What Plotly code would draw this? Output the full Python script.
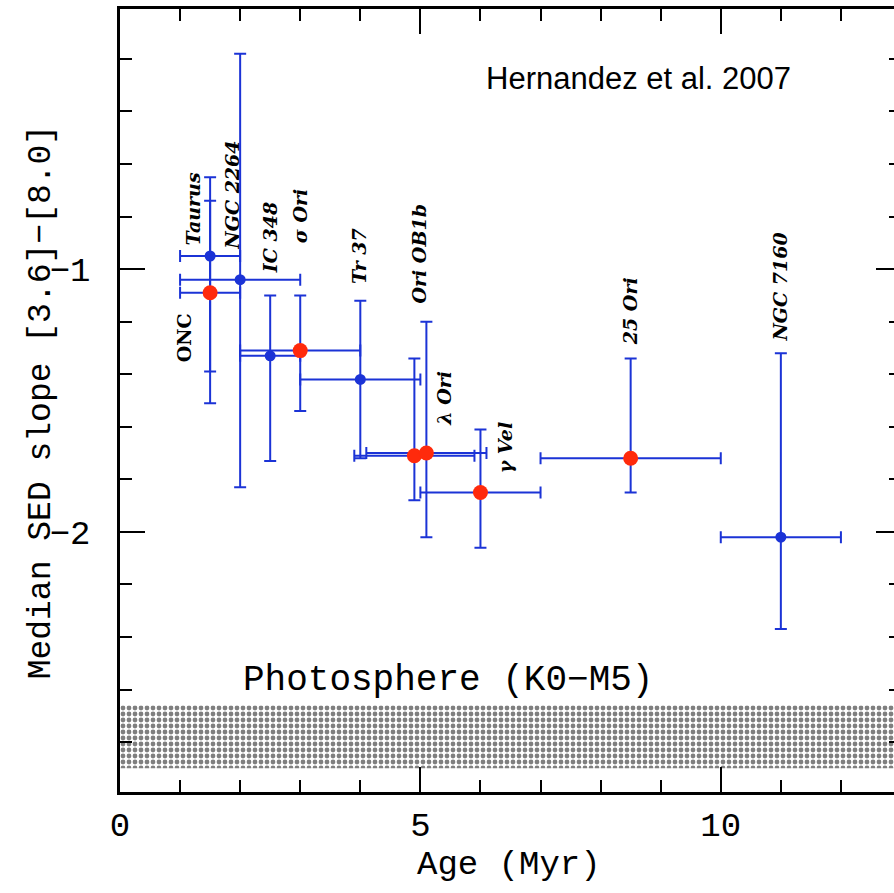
import plotly.graph_objects as go

# Young clusters drawn with blue symbols
blue_names = ["Taurus", "NGC 2264", "IC 348", "Tr 37", "NGC 7160"]
blue_age = [1.5, 2.0, 2.5, 4.0, 11.0]
blue_age_err = [0.5, 1.0, 0.5, 1.0, 1.0]
blue_slope = [-0.95, -1.04, -1.33, -1.42, -2.02]
blue_err_up = [0.21, 0.86, 0.23, 0.30, 0.70]
blue_err_down = [0.44, 0.79, 0.40, 0.30, 0.35]

# Clusters drawn with red symbols
red_names = ["ONC", "σ Ori", "λ Ori", "Ori OB1b", "γ Vel", "25 Ori"]
red_age = [1.5, 3.0, 4.9, 5.1, 6.0, 8.5]
red_age_err = [0.5, 1.0, 1.0, 1.0, 1.0, 1.5]
red_slope = [-1.09, -1.31, -1.71, -1.70, -1.85, -1.72]
red_err_up = [0.44, 0.21, 0.37, 0.50, 0.24, 0.38]
red_err_down = [0.42, 0.23, 0.17, 0.32, 0.21, 0.13]

# Photospheric locus for K0-M5 stars
photo_top = -2.66
photo_bottom = -2.90

# Rotated name tags (text, x, y)
tag_text = ["Taurus", "NGC 2264", "IC 348", "σ Ori", "Tr 37", "Ori OB1b",
            "λ Ori", "γ Vel", "25 Ori", "NGC 7160", "ONC"]
tag_x = [1.21, 1.85, 2.49, 2.99, 3.98, 4.98, 5.39, 6.40, 8.49, 10.97, 1.08]
tag_y = [-0.77, -0.72, -0.88, -0.80, -0.95, -0.94, -1.49, -1.68, -1.16, -1.07, -1.26]

BLUE = "#1b33d6"
RED = "#ff2a0c"
MONO = "Liberation Mono"

fig = go.Figure()

# Dotted photosphere band
fig.add_trace(go.Scatter(
    x=[0, 13, 13, 0, 0],
    y=[photo_top, photo_top, photo_bottom, photo_bottom, photo_top],
    mode="lines", line=dict(width=0), fill="toself",
    fillcolor="white",
    fillpattern=dict(shape=".", fgcolor="black", bgcolor="white", size=6, solidity=0.5),
    hoverinfo="skip", showlegend=False,
))


def err(arr, arrminus=None):
    d = dict(type="data", array=arr, color=BLUE, thickness=2, width=6, visible=True)
    if arrminus is not None:
        d["symmetric"] = False
        d["arrayminus"] = arrminus
    return d


fig.add_trace(go.Scatter(
    x=blue_age, y=blue_slope, mode="markers", text=blue_names,
    marker=dict(color=BLUE, size=11),
    error_x=err(blue_age_err), error_y=err(blue_err_up, blue_err_down),
    showlegend=False,
))
fig.add_trace(go.Scatter(
    x=red_age, y=red_slope, mode="markers", text=red_names,
    marker=dict(color=RED, size=15),
    error_x=err(red_age_err), error_y=err(red_err_up, red_err_down),
    showlegend=False,
))

annotations = []
for t, x, y in zip(tag_text, tag_x, tag_y):
    label = f"<b>{t}</b>" if t == "ONC" else f"<b><i>{t}</i></b>"
    annotations.append(dict(
        x=x, y=y, xref="x", yref="y", text=label, showarrow=False,
        textangle=-90, xanchor="center", yanchor="middle",
        font=dict(family="DejaVu Serif", size=19, color="black"),
    ))

annotations += [
    dict(x=5.456, y=-2.565, xref="x", yref="y", text="Photosphere (K0−M5)",
         showarrow=False, xanchor="center", yanchor="middle",
         font=dict(family=MONO, size=36, color="black")),
    dict(x=0.664, y=0.911, xref="paper", yref="paper", text="Hernandez et al. 2007",
         showarrow=False, xanchor="center", yanchor="middle",
         font=dict(family="Liberation Sans", size=31, color="black")),
    dict(x=0.4987, y=-0.093, xref="paper", yref="paper", text="Age (Myr)",
         showarrow=False, xanchor="center", yanchor="middle",
         font=dict(family=MONO, size=34, color="black")),
    dict(x=-0.1008, y=0.498, xref="paper", yref="paper",
         text="Median SED slope [3.6]−[8.0]", textangle=-90,
         showarrow=False, xanchor="center", yanchor="middle",
         font=dict(family=MONO, size=33, color="black")),
]

axis_common = dict(
    showline=True, linecolor="black", linewidth=2.5, mirror="ticks",
    ticks="inside", tickcolor="black", tickwidth=2, ticklen=25,
    showgrid=False, zeroline=False,
    tickfont=dict(family=MONO, size=34, color="black"),
)

fig.update_layout(
    width=910, height=893,
    margin=dict(l=120, r=6, t=8, b=101),
    paper_bgcolor="white", plot_bgcolor="white",
    xaxis=dict(range=[0, 13], tickmode="linear", tick0=0, dtick=5,
               minor=dict(ticks="inside", ticklen=12, tickwidth=2, tickcolor="black",
                          tickmode="linear", tick0=0, dtick=1),
               ticklabelstandoff=0, **axis_common),
    yaxis=dict(range=[-2.99, -0.01], tickmode="linear", tick0=0, dtick=1,
               minor=dict(ticks="inside", ticklen=12, tickwidth=2, tickcolor="black",
                          tickmode="linear", tick0=0, dtick=0.2),
               ticklabelstandoff=20, **axis_common),
    annotations=annotations,
    showlegend=False,
)

fig.write_html(
    "out.html",
    post_script="document.body.style.overflow='hidden';"
                "document.documentElement.style.overflow='hidden';",
)
